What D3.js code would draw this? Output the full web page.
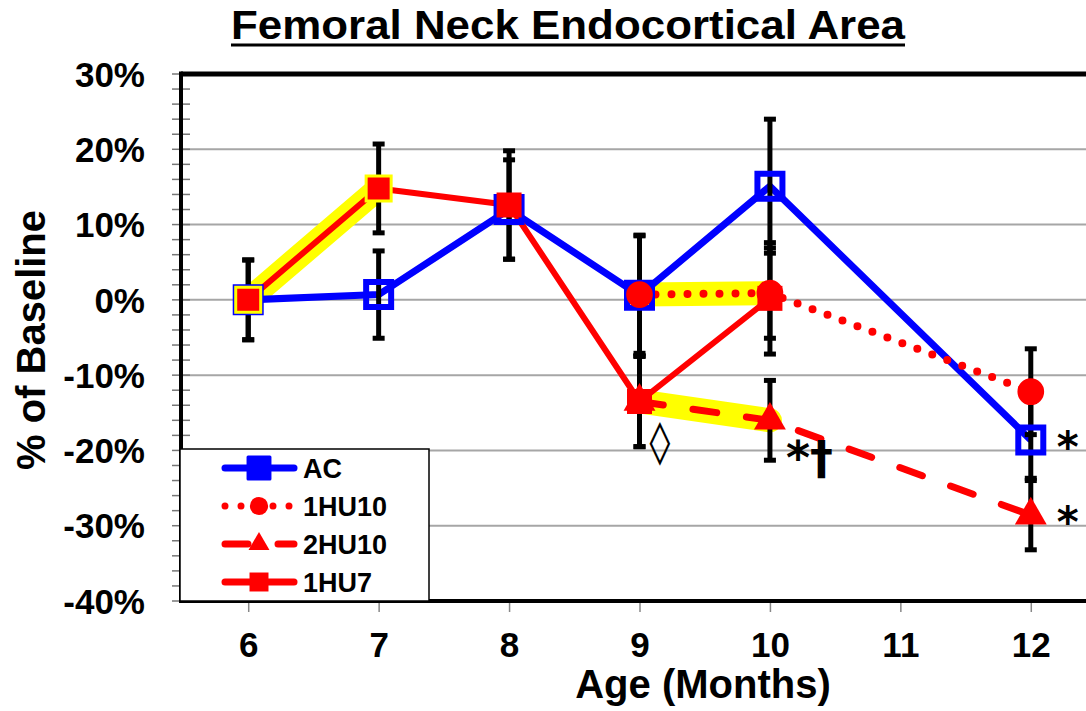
<!DOCTYPE html>
<html>
<head>
<meta charset="utf-8">
<script src="https://cdn.jsdelivr.net/npm/d3@7"></script>
<style>
  body { margin: 0; background: #fff; }
  svg { display: block; }
  text { font-family: "Liberation Sans", Arial, sans-serif; font-weight: bold; fill: #000; }
</style>
</head>
<body>
<div id="chart"></div>
<script>
// Values (% change from baseline), null = no point
const ages = ["6", "7", "8", "9", "10", "11", "12"];
const acValues   = [0, 0.7, 12.0, 0.6, 15.1, null, -18.6];
const acErrors   = [5.3, 5.8, 6.6, 8.0, 8.9, null, 5.1];
const hu10Values = [null, null, null, 0.7, 0.9, null, -12.2];
const hu10Errors = [null, null, null, 7.8, 6.0, null, 5.7];
const hu2Values  = [null, null, null, -13.5, -16.0, null, -28.6];
const hu2Errors  = [null, null, null, 6.0, 5.3, null, 4.6];
const hu7Values  = [0, 14.8, 12.6, -13.5, 0.2, null, null];
const hu7Errors  = [5.3, 5.9, 7.2, 6.0, 7.4, null, null];
const yTicks = [-40, -30, -20, -10, 0, 10, 20, 30];

// highlighted (yellow) segments
const highlights = [
  { series: "1HU7", from: "6", to: "7" },
  { series: "1HU10", from: "9", to: "10" },
  { series: "2HU10", from: "9", to: "10" }
];

// significance marks
const notes = [
  { age: "9", value: -18.5, text: "\u25CA" },
  { age: "10", value: -21.5, text: "*\u2020" },
  { age: "12", value: -18.6, text: "*" },
  { age: "12", value: -28.6, text: "*" }
];

const series = [
  { name: "AC", values: acValues, errors: acErrors, color: "#0000ff", dash: null, width: 7, symbol: d3.symbolSquare, size: 625, hollow: true },
  { name: "1HU10", values: hu10Values, errors: hu10Errors, color: "#ff0000", dash: "0 16", width: 8, symbol: d3.symbolCircle, size: 560 },
  { name: "2HU10", values: hu2Values, errors: hu2Errors, color: "#ff0000", dash: "24 30", width: 7, symbol: d3.symbolTriangle, size: 440 },
  { name: "1HU7", values: hu7Values, errors: hu7Errors, color: "#ff0000", dash: null, width: 6, symbol: d3.symbolSquare, size: 625, outline: ["6", "7"] }
];

const width = 1086, height = 711;
const plot = { left: 181, top: 74, right: 1096, bottom: 601 };

const svg = d3.select("#chart").append("svg")
  .attr("width", width)
  .attr("height", height);

const x = d3.scalePoint().domain(ages).range([plot.left + 2, plot.right]).padding(0.5);
const y = d3.scaleLinear().domain([-40, 30]).range([plot.bottom, plot.top]);

// gridlines
svg.append("g").selectAll("line")
  .data(yTicks.filter(t => t > -40 && t < 30))
  .enter().append("line")
  .attr("x1", plot.left).attr("x2", width)
  .attr("y1", d => y(d)).attr("y2", d => y(d))
  .attr("stroke", "#a6a6a6").attr("stroke-width", 2);

// minor ticks crossing the y axis
svg.append("g").selectAll("line")
  .data(d3.range(-40, 31, 2))
  .enter().append("line")
  .attr("x1", plot.left - 9).attr("x2", plot.left + 9)
  .attr("y1", d => y(d)).attr("y2", d => y(d))
  .attr("stroke", "#777").attr("stroke-width", 1.5);

// y labels
const yAxis = svg.append("g")
  .attr("transform", `translate(${plot.left},0)`)
  .call(d3.axisLeft(y).tickValues(yTicks).tickSize(0).tickPadding(36).tickFormat(d => d + "%"));
yAxis.select(".domain").remove();
yAxis.selectAll("text").style("font-size", "35px").attr("dy", "0.35em");

// x ticks and labels
const xAxis = svg.append("g")
  .attr("transform", `translate(0,${plot.bottom})`)
  .call(d3.axisBottom(x).tickSize(11).tickPadding(20));
xAxis.select(".domain").remove();
xAxis.selectAll("line").attr("stroke", "#888").attr("stroke-width", 1.5);
xAxis.selectAll("text").style("font-size", "35px");

// frame
svg.append("line").attr("x1", plot.left).attr("x2", width)
  .attr("y1", plot.top).attr("y2", plot.top)
  .attr("stroke", "#000").attr("stroke-width", 5);
svg.append("line").attr("x1", plot.left).attr("x2", width)
  .attr("y1", plot.bottom).attr("y2", plot.bottom)
  .attr("stroke", "#000").attr("stroke-width", 4);
svg.append("line").attr("x1", plot.left).attr("x2", plot.left)
  .attr("y1", plot.top - 2.5).attr("y2", plot.bottom + 2)
  .attr("stroke", "#000").attr("stroke-width", 4);

const pointsOf = s => ages.map((a, i) => ({ age: a, v: s.values[i], e: s.errors[i], s }))
  .filter(p => p.v !== null);

const line = d3.line().x(p => x(p.age)).y(p => y(p.v));

// yellow highlights
highlights.forEach(h => {
  const s = series.find(d => d.name === h.series);
  const pts = pointsOf(s).filter(p => p.age === h.from || p.age === h.to);
  svg.append("path")
    .attr("d", line(pts))
    .attr("fill", "none")
    .attr("stroke", "#ffff00")
    .attr("stroke-width", 24)
    .attr("stroke-linecap", "round");
});

// series lines
series.forEach(s => {
  svg.append("path")
    .attr("d", line(pointsOf(s)))
    .attr("fill", "none")
    .attr("stroke", s.color)
    .attr("stroke-width", s.width)
    .attr("stroke-linecap", s.dash ? "round" : "butt")
    .attr("stroke-linejoin", "round")
    .attr("stroke-dasharray", s.dash);
});

// error bars
const allPoints = series.flatMap(pointsOf);
const bars = svg.append("g").selectAll("g")
  .data(allPoints.filter(p => p.e !== null))
  .enter().append("g");
bars.append("line")
  .attr("x1", p => x(p.age)).attr("x2", p => x(p.age))
  .attr("y1", p => y(p.v - p.e)).attr("y2", p => y(p.v + p.e))
  .attr("stroke", "#000").attr("stroke-width", 5);
[-1, 1].forEach(sign => {
  bars.append("line")
    .attr("x1", p => x(p.age) - 6).attr("x2", p => x(p.age) + 6)
    .attr("y1", p => y(p.v + sign * p.e)).attr("y2", p => y(p.v + sign * p.e))
    .attr("stroke", "#000").attr("stroke-width", 5);
});

// markers
svg.append("g").selectAll("path")
  .data(allPoints)
  .enter().append("path")
  .attr("transform", p => `translate(${x(p.age)},${y(p.v)})`)
  .attr("d", p => d3.symbol(p.s.symbol, p.s.size)())
  .attr("fill", p => p.s.hollow ? "none" : p.s.color)
  .attr("stroke", p => p.s.hollow ? p.s.color : (p.s.outline && p.s.outline.includes(p.age) ? "#ffff00" : "none"))
  .attr("stroke-width", p => p.s.hollow ? 6 : 3);

// significance marks
const noteShift = { "\u25CA": [10, 17], "*\u2020": [16, 12], "*": [26, 22] };
svg.append("g").selectAll("text")
  .data(notes)
  .enter().append("text")
  .attr("x", d => x(d.age) + noteShift[d.text][0])
  .attr("y", d => y(d.value) + noteShift[d.text][1])
  .style("font-family", "'DejaVu Sans', sans-serif")
  .style("font-weight", "bold")
  .style("font-size", d => d.text.length > 1 ? "46px" : "42px")
  .text(d => d.text);

// legend
const legend = svg.append("g");
legend.append("rect")
  .attr("x", 180).attr("y", 449).attr("width", 249).attr("height", 152)
  .attr("fill", "#fff").attr("stroke", "#000").attr("stroke-width", 1.5);
const legendSymbol = { "AC": [d3.symbolSquare, 480], "1HU10": [d3.symbolCircle, 260], "2HU10": [d3.symbolTriangle, 190], "1HU7": [d3.symbolSquare, 360] };
series.forEach((s, i) => {
  const ly = 468 + i * 38;
  legend.append("line")
    .attr("x1", 225).attr("x2", 294).attr("y1", ly).attr("y2", ly)
    .attr("stroke", s.color).attr("stroke-width", 7)
    .attr("stroke-linecap", "round")
    .attr("stroke-dasharray", s.dash ? (s.name === "2HU10" ? "23 30" : s.dash) : null);
  legend.append("path")
    .attr("transform", `translate(259,${ly})`)
    .attr("d", d3.symbol(legendSymbol[s.name][0], legendSymbol[s.name][1])())
    .attr("fill", s.color)
    .attr("stroke", s.color)
    .attr("stroke-width", s.name === "AC" ? 3 : 0)
    .attr("stroke-linejoin", "round");
  legend.append("text")
    .attr("x", 303).attr("y", ly).attr("dy", "0.36em")
    .style("font-size", "27px")
    .text(s.name);
});

// titles
const title = svg.append("text")
  .attr("x", 568).attr("y", 39)
  .attr("text-anchor", "middle")
  .attr("textLength", 674)
  .attr("lengthAdjust", "spacingAndGlyphs")
  .style("font-size", "41px")
  .text("Femoral Neck Endocortical Area");
svg.append("line")
  .attr("x1", 568 - 337).attr("x2", 568 + 337)
  .attr("y1", 45).attr("y2", 45)
  .attr("stroke", "#000").attr("stroke-width", 3);

svg.append("text")
  .attr("x", 703).attr("y", 698)
  .attr("text-anchor", "middle")
  .style("font-size", "40px")
  .text("Age (Months)");

svg.append("text")
  .attr("transform", "translate(45,340) rotate(-90)")
  .attr("text-anchor", "middle")
  .style("font-size", "40px")
  .text("% of Baseline");
</script>
</body>
</html>
